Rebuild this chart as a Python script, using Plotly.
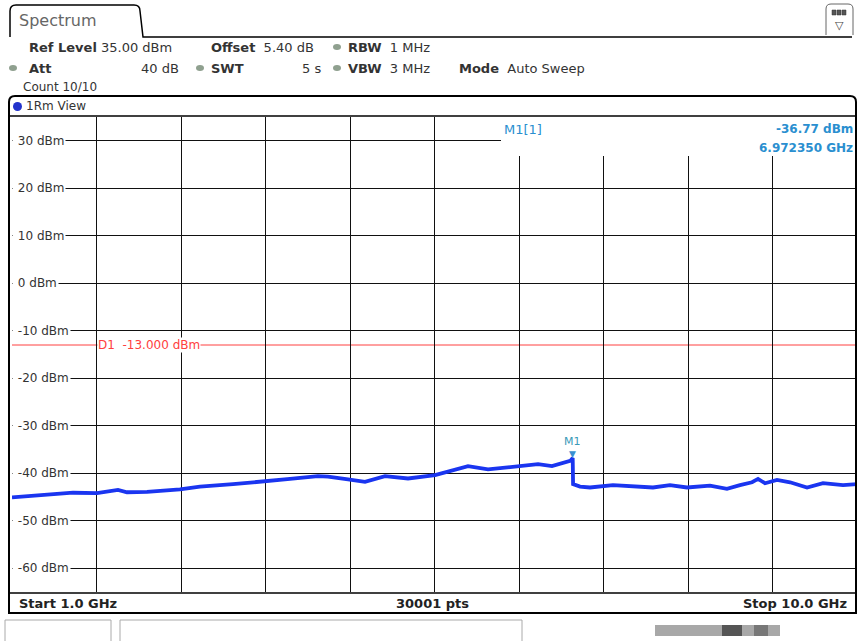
import plotly.graph_objects as go

# --- data ---
freq_ghz = [1.000, 1.224, 1.405, 1.650, 1.905, 2.129, 2.225, 2.438, 2.789, 3.002,
            3.354, 3.609, 3.716, 3.961, 4.259, 4.366, 4.579, 4.760, 4.973, 5.218,
            5.506, 5.644, 5.857, 6.070, 6.390, 6.603, 6.751, 6.945, 6.972, 6.976,
            7.050, 7.156, 7.401, 7.827, 8.008, 8.189, 8.434, 8.615, 8.754, 8.882,
            8.946, 9.020, 9.148, 9.287, 9.468, 9.638, 9.851, 10.0]
level_dbm = [-45.1, -44.8, -44.6, -44.1, -44.2, -43.5, -44.0, -43.9, -43.4, -42.8,
             -42.3, -41.9, -41.6, -41.2, -40.6, -40.7, -41.3, -41.8, -40.6, -41.1,
             -40.4, -39.7, -38.5, -39.2, -38.6, -38.1, -38.5, -37.4, -36.8, -42.3,
             -42.8, -43.0, -42.5, -43.0, -42.5, -43.0, -42.6, -43.3, -42.5, -41.9,
             -41.2, -42.1, -41.4, -41.9, -43.0, -42.1, -42.5, -42.3]
ytick_vals = [30, 20, 10, 0, -10, -20, -30, -40, -50, -60]
ytick_text = ["30 dBm", "20 dBm", "10 dBm", "0 dBm", "-10 dBm", "-20 dBm",
              "-30 dBm", "-40 dBm", "-50 dBm", "-60 dBm"]
d1_level = -13.0
marker_freq = 6.97235
marker_level = -36.77

# pixel -> paper helpers for the instrument chrome
L, R, T, B = 12, 857, 117, 592
def px(x):
    return (x - L) / (R - L)
def py(y):
    return (B - y) / (B - T)

FONT = "DejaVu Sans"
GREY = "#333333"
CYAN = "#2a8fd0"

fig = go.Figure()

fig.add_trace(go.Scatter(
    x=freq_ghz, y=level_dbm, mode="lines",
    line=dict(color="#1a35f0", width=3.8),
    hoverinfo="skip", showlegend=False,
))

shapes = []
annotations = []

# D1 display line
shapes.append(dict(type="line", xref="paper", yref="y", x0=0, x1=1, y0=d1_level, y1=d1_level,
                   line=dict(color="#ff4040", width=1), layer="below"))

# white box behind marker readout (top right)
shapes.append(dict(type="rect", xref="paper", yref="paper", layer="above",
                   x0=px(501), x1=px(857), y0=py(156), y1=py(117),
                   fillcolor="white", line=dict(width=0, color="white")))

# outer frame of the plot window
shapes.append(dict(type="path", xref="paper", yref="paper", layer="above",
                   path=f"M {px(9)},{py(613)} L {px(9)},{py(102)} Q {px(9)},{py(96)} {px(15)},{py(96)} "
                        f"L {px(850)},{py(96)} Q {px(856)},{py(96)} {px(856)},{py(102)} L {px(856)},{py(613)} Z",
                   line=dict(color="black", width=2)))
shapes.append(dict(type="line", xref="paper", yref="paper", layer="above",
                   x0=px(9), x1=px(856), y0=py(116), y1=py(116), line=dict(color="black", width=1.5)))
shapes.append(dict(type="line", xref="paper", yref="paper", layer="above",
                   x0=px(9), x1=px(856), y0=py(593), y1=py(593), line=dict(color="black", width=1.5)))

# Spectrum tab and header line
shapes.append(dict(type="path", xref="paper", yref="paper", layer="above",
                   path=f"M {px(10)},{py(37)} L {px(10)},{py(11)} Q {px(10)},{py(5)} {px(16)},{py(5)} "
                        f"L {px(134)},{py(5)} Q {px(140)},{py(5)} {px(140)},{py(11)} L {px(143)},{py(37)} "
                        f"L {px(852)},{py(37)}",
                   line=dict(color="black", width=1.5)))
# top right icon
shapes.append(dict(type="path", xref="paper", yref="paper", layer="above",
                   path=f"M {px(826)},{py(35)} L {px(826)},{py(9)} Q {px(826)},{py(4)} {px(831)},{py(4)} "
                        f"L {px(848)},{py(4)} Q {px(853)},{py(4)} {px(853)},{py(9)} L {px(853)},{py(35)}",
                   line=dict(color="#666", width=1), fillcolor="white"))
for sx in (832, 837, 842):
    shapes.append(dict(type="rect", xref="paper", yref="paper", layer="above",
                       x0=px(sx), x1=px(sx + 4), y0=py(15), y1=py(10),
                       line=dict(color="#333", width=0.5), fillcolor="#555"))

# bullets
for bx, by in [(13, 68), (200, 68), (337, 47), (337, 68)]:
    shapes.append(dict(type="circle", xref="paper", yref="paper", layer="above",
                       x0=px(bx - 4), x1=px(bx + 4), y0=py(by + 3), y1=py(by - 3),
                       fillcolor="#8fa08f", line_width=0))
# blue dot for 1Rm
shapes.append(dict(type="circle", xref="paper", yref="paper", layer="above",
                   x0=px(13), x1=px(22), y0=py(111), y1=py(102),
                   fillcolor="#2233cc", line_width=0))

# bottom status bar boxes
shapes.append(dict(type="rect", xref="paper", yref="paper", layer="above",
                   x0=px(5), x1=px(111), y0=py(645), y1=py(620),
                   line=dict(color="#aaa", width=1), fillcolor="white"))
shapes.append(dict(type="rect", xref="paper", yref="paper", layer="above",
                   x0=px(120), x1=px(522), y0=py(645), y1=py(620),
                   line=dict(color="#aaa", width=1), fillcolor="white"))
shapes.append(dict(type="rect", xref="paper", yref="paper", layer="above",
                   x0=px(655), x1=px(780), y0=py(636), y1=py(625),
                   line_width=0, fillcolor="#a8a8a8"))
shapes.append(dict(type="rect", xref="paper", yref="paper", layer="above",
                   x0=px(722), x1=px(742), y0=py(636), y1=py(625),
                   line_width=0, fillcolor="#555"))
shapes.append(dict(type="rect", xref="paper", yref="paper", layer="above",
                   x0=px(754), x1=px(768), y0=py(636), y1=py(625),
                   line_width=0, fillcolor="#777"))


def txt(x, y, text, size=12, color=GREY, anchor="left", family=FONT):
    annotations.append(dict(xref="paper", yref="paper", x=px(x), y=py(y), text=text, showarrow=False,
                            xanchor=anchor, yanchor="middle",
                            font=dict(family=family, size=size, color=color)))


# header
txt(17, 20, "Spectrum", size=16, color="#666")
txt(27, 47, "<b>Ref Level</b> 35.00 dBm", size=13)
txt(209, 47, "<b>Offset</b>  5.40 dB", size=13)
txt(346, 47, "<b>RBW</b>  1 MHz", size=13)
txt(27, 68, "<b>Att</b>", size=13)
txt(181, 68, "40 dB", size=13, anchor="right")
txt(209, 68, "<b>SWT</b>", size=13)
txt(323, 68, "5 s", size=13, anchor="right")
txt(346, 68, "<b>VBW</b>  3 MHz", size=13)
txt(457, 68, "<b>Mode</b>  Auto Sweep", size=13)
txt(21, 87, "Count 10/10", size=12)
txt(839, 25, "▽", size=11, color="#444", anchor="center")
txt(24, 106, "1Rm View", size=12)

# y tick labels drawn inside the grid (white backing hides the gridline)
for v, t in zip(ytick_vals, ytick_text):
    annotations.append(dict(xref="paper", yref="y", x=0, y=v, text="\u00a0" + t, showarrow=False,
                            xanchor="left", yanchor="middle", bgcolor="white", borderpad=1,
                            font=dict(family=FONT, size=12, color=GREY)))

# D1 label
annotations.append(dict(xref="paper", yref="y", x=px(97), y=d1_level, text="D1  -13.000 dBm",
                        showarrow=False, xanchor="left", yanchor="middle", bgcolor="white",
                        borderpad=0, font=dict(family=FONT, size=12, color="#ff4040")))

# marker readout
txt(502, 129, "M1[1]", size=13, color=CYAN)
txt(855, 129, "<b>-36.77 dBm</b>", size=12, color=CYAN, anchor="right")
txt(855, 148, "<b>6.972350 GHz</b>", size=12, color=CYAN, anchor="right")

# marker symbol on trace
annotations.append(dict(x=marker_freq, y=marker_level, xref="x", yref="y", text="▼",
                        showarrow=False, yanchor="bottom", yshift=-3,
                        font=dict(family=FONT, size=9, color="#3a8fd0")))
annotations.append(dict(x=marker_freq, y=marker_level, xref="x", yref="y", text="M1",
                        showarrow=False, yanchor="bottom", yshift=8,
                        font=dict(family=FONT, size=11, color="#3a9ab8")))

# footer of the plot window
txt(17, 603, "<b>Start 1.0 GHz</b>", size=13, color="#222")
txt(432, 603, "<b>30001 pts</b>", size=13, color="#222", anchor="center")
txt(849, 603, "<b>Stop 10.0 GHz</b>", size=13, color="#222", anchor="right")

fig.update_layout(
    width=857, height=641, autosize=False,
    margin=dict(l=L, r=0, t=T, b=641 - B, pad=0),
    paper_bgcolor="white", plot_bgcolor="white",
    showlegend=False,
    font=dict(family=FONT, color=GREY),
)
fig.layout.shapes = shapes
fig.layout.annotations = annotations
fig.update_xaxes(range=[1.0, 10.0], tick0=1.0, dtick=0.9, showticklabels=False,
                 showgrid=True, gridcolor="#111", gridwidth=1, zeroline=False,
                 showline=False, ticks="")
fig.update_yaxes(range=[-65, 35], tick0=-60, dtick=10, showticklabels=False,
                 showgrid=True, gridcolor="#111", gridwidth=1, zeroline=False,
                 showline=False, ticks="")

# drop the default body margin so the figure sits at the window's top-left
fig.write_html("out.html", config={"displayModeBar": False},
               post_script="document.body.style.margin='0';document.body.style.overflow='hidden';")
